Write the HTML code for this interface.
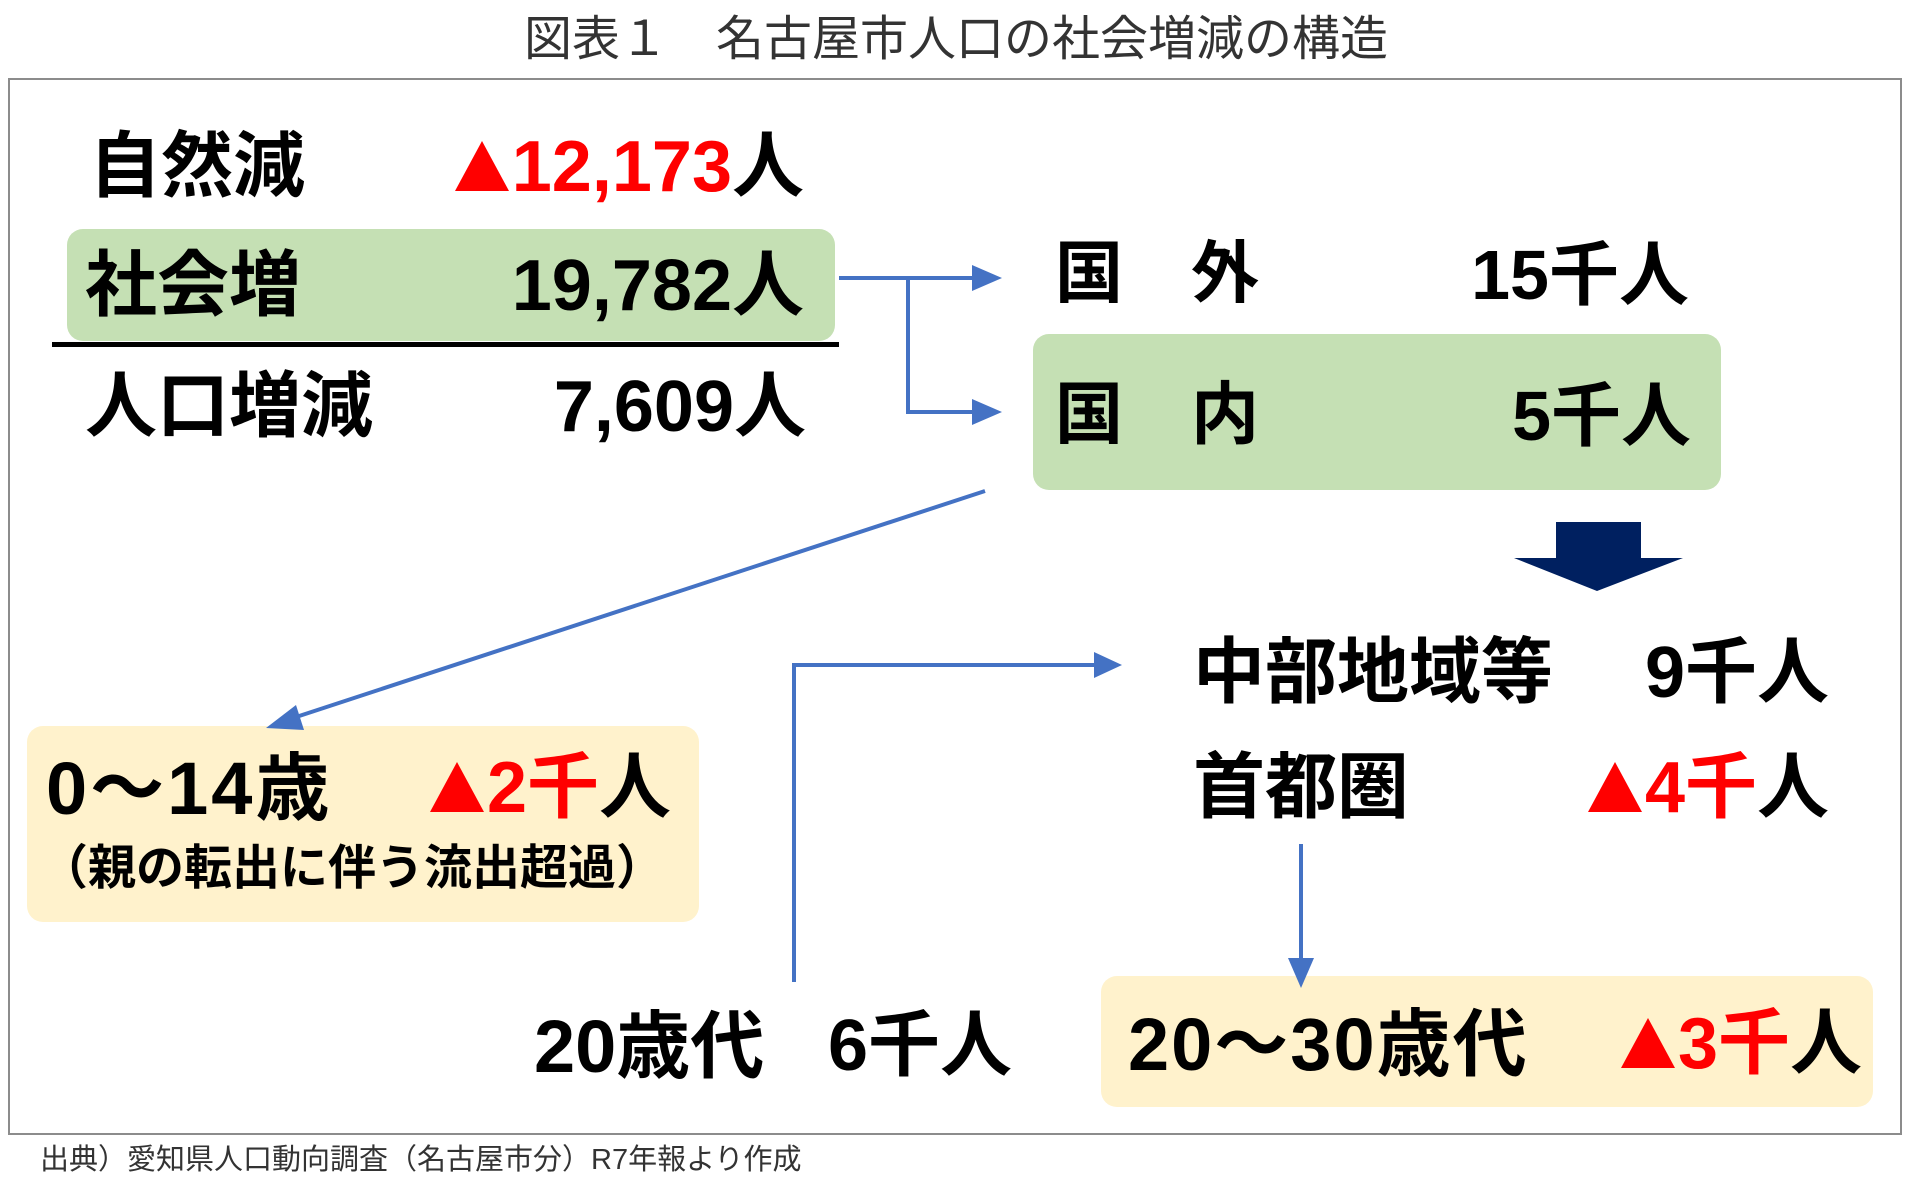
<!DOCTYPE html>
<html><head><meta charset="utf-8"><style>
body{margin:0;background:#fff;}
#c{position:relative;width:1912px;height:1198px;overflow:hidden;font-family:"Liberation Sans","Noto Sans CJK JP",sans-serif;}
.t{position:absolute;white-space:nowrap;line-height:1;font-weight:bold;color:#000;}
.r{color:#f00;}
.box{position:absolute;border-radius:16px;}
.tri{display:inline-block;width:0;height:0;border-left:.38em solid transparent;border-right:.38em solid transparent;border-bottom:.7em solid #f00;margin-right:.04em;}
</style></head><body><div id="c">
<div class="t" style="left:0;width:1912px;text-align:center;top:16px;font-size:48px;font-weight:normal;color:#333;">図表１　名古屋市人口の社会増減の構造</div>
<div style="position:absolute;left:8px;top:78px;width:1890px;height:1053px;border:2px solid #8c8c8c;"></div>

<div class="box" style="left:67px;top:229px;width:768px;height:112px;background:#c5e0b4;"></div>
<div class="box" style="left:1033px;top:334px;width:688px;height:156px;background:#c5e0b4;"></div>
<div class="box" style="left:27px;top:726px;width:672px;height:196px;background:#fff2cc;"></div>
<div class="box" style="left:1101px;top:976px;width:772px;height:131px;background:#fff2cc;"></div>
<div style="position:absolute;left:52px;top:342px;width:787px;height:5px;background:#000;"></div>

<svg width="1912" height="1198" style="position:absolute;left:0;top:0">
<g stroke="#4472c4" stroke-width="4" fill="none">
<polyline points="839,278 908,278 908,412 978,412"/>
<line x1="908" y1="278" x2="978" y2="278"/>
<line x1="985" y1="491" x2="290" y2="719"/>
<line x1="1301" y1="844" x2="1301" y2="958"/>
<polyline points="794,982 794,665 1096,665"/>
</g>
<g fill="#4472c4">
<polygon points="1002,278 972,265 972,291"/>
<polygon points="1002,412 972,399 972,425"/>
<polygon points="266,728 296,705 304,730"/>
<polygon points="1301,988 1288,958 1314,958"/>
<polygon points="1122,665 1094,652 1094,678"/>
</g>
<polygon fill="#002060" points="1556,522 1641,522 1641,558 1683,558 1597,591 1514,558 1556,558"/>
</svg>

<div class="t" style="left:89px;top:131px;font-size:72px;">自然減</div>
<div class="t r" style="right:1108px;top:131px;font-size:72px;"><span class="tri"></span>12,173<span style="color:#000">人</span></div>
<div class="t" style="left:85px;top:250px;font-size:72px;">社会増</div>
<div class="t" style="right:1108px;top:250px;font-size:72px;">19,782人</div>
<div class="t" style="left:85px;top:371px;font-size:72px;">人口増減</div>
<div class="t" style="right:1106px;top:371px;font-size:72px;">7,609人</div>

<div class="t" style="left:1055px;top:240px;font-size:68px;">国　外</div>
<div class="t" style="right:223px;top:240px;font-size:70px;">15千人</div>
<div class="t" style="left:1055px;top:381px;font-size:68px;">国　内</div>
<div class="t" style="right:221px;top:381px;font-size:70px;">5千人</div>

<div class="t" style="left:1193px;top:637px;font-size:72px;">中部地域等</div>
<div class="t" style="right:83px;top:637px;font-size:72px;">9千人</div>
<div class="t" style="left:1193px;top:752px;font-size:72px;">首都圏</div>
<div class="t r" style="right:83px;top:752px;font-size:72px;"><span class="tri"></span>4千<span style="color:#000">人</span></div>

<div class="t" style="left:46px;top:752px;font-size:74px;letter-spacing:3px;">0～14歳</div>
<div class="t r" style="right:1241px;top:752px;font-size:72px;"><span class="tri"></span>2千<span style="color:#000">人</span></div>
<div class="t" style="left:40px;top:845px;font-size:48px;">（親の転出に伴う流出超過）</div>

<div class="t" style="left:534px;top:1010px;font-size:74px;">20歳代</div>
<div class="t" style="right:900px;top:1010px;font-size:72px;">6千人</div>
<div class="t" style="left:1128px;top:1008px;font-size:74px;letter-spacing:2px;">20～30歳代</div>
<div class="t r" style="right:50px;top:1008px;font-size:72px;"><span class="tri"></span>3千<span style="color:#000">人</span></div>

<div class="t" style="left:40px;top:1146px;font-size:29px;font-weight:normal;color:#333;">出典）愛知県人口動向調査（名古屋市分）R7年報より作成</div>
</div></body></html>
